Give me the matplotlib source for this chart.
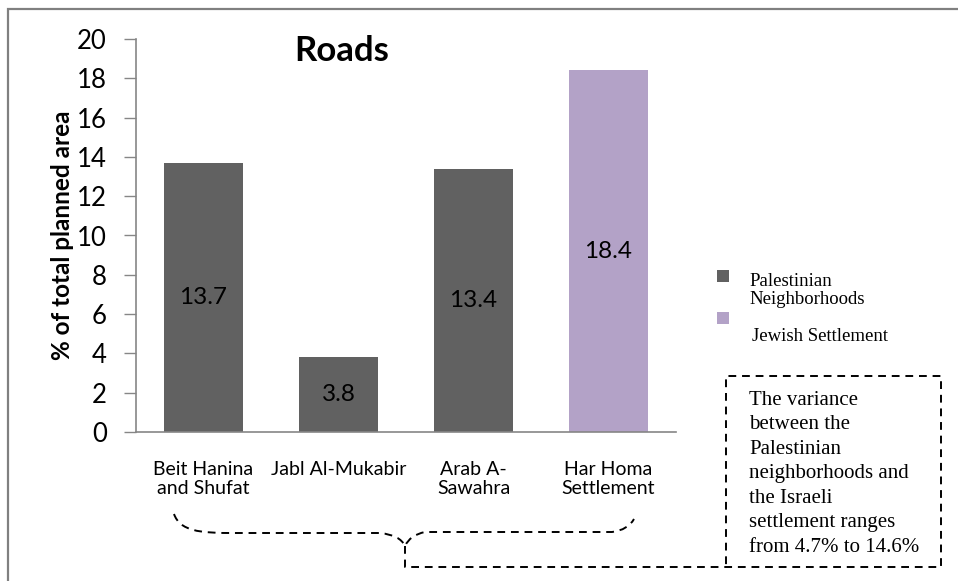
import matplotlib
matplotlib.use("Agg")
import matplotlib.pyplot as plt
from matplotlib.patches import Rectangle, PathPatch
from matplotlib.path import Path
from matplotlib import rcParams

rcParams["font.family"] = ["Lato", "DejaVu Sans"]

# Road share of planned area per neighbourhood
categories = ["Beit Hanina\nand Shufat", "Jabl Al-Mukabir", "Arab A-\nSawahra", "Har Homa\nSettlement"]
values = [13.7, 3.8, 13.4, 18.4]
groups = ["pal", "pal", "pal", "jew"]

group_colors = {"pal": "#616161", "jew": "#B3A2C7"}
legend_labels = {"pal": "Palestinian\nNeighborhoods", "jew": "Jewish Settlement"}
note = ("The variance\nbetween the\nPalestinian\nneighborhoods and\n"
        "the Israeli\nsettlement ranges\nfrom 4.7% to 14.6%")

W, H = 958, 581
fig = plt.figure(figsize=(W / 100, H / 100), dpi=100)


def px(x, y):
    # pixel position (top-left origin) -> figure fraction
    return x / W, 1 - y / H


ax = fig.add_axes([136 / W, 1 - 432 / H, 540 / W, 393 / H])
xs = range(len(values))
bars = ax.bar(xs, values, width=0.58, color=[group_colors[g] for g in groups])
ax.bar_label(bars, labels=[f"{v:g}" for v in values], label_type="center",
             fontsize=17.5, color="black")

ax.set_xlim(-0.5, len(values) - 0.5)
ax.set_ylim(0, 20)
ax.set_yticks(range(0, 21, 2))
ax.set_xticks(list(xs))
ax.set_xticklabels(categories, fontsize=14, linespacing=1.1)
ax.tick_params(axis="x", length=0, pad=21)
ax.tick_params(axis="y", length=9, width=1, color="#868686", labelsize=18.5, pad=12)
for side in ("top", "right"):
    ax.spines[side].set_visible(False)
for side in ("left", "bottom"):
    ax.spines[side].set_color("#868686")
    ax.spines[side].set_linewidth(1.2)

ax.set_ylabel("% of total planned area", fontsize=17.5, fontweight="bold", labelpad=2)
ax.text(0.38, 0.97, "Roads", transform=ax.transAxes, ha="center", va="center",
        fontsize=25, fontweight="bold")

# legend, laid out by hand
serif = ["Liberation Serif", "DejaVu Serif"]
for (g, sy), (tx, ty) in zip([("pal", 270), ("jew", 312)], [(749, 273), (752, 328)]):
    x0, y0 = px(717, sy + 12)
    fig.add_artist(Rectangle((x0, y0), 12 / W, 12 / H, transform=fig.transFigure,
                             color=group_colors[g], lw=0))
    fig.text(*px(tx, ty), legend_labels[g], family=serif, fontsize=13.5, va="top",
             linespacing=1.05)

# note box and dashed brace joining it to the x labels
fig.text(*px(749, 391), note, family=serif, fontsize=15, va="top", linespacing=1.39)

dash = dict(color="black", lw=1.4, linestyle=(0, (4, 3)))
box = [px(405, 546), px(405, 567), px(941, 567), px(941, 376), px(726, 376), px(726, 567)]
fig.add_artist(plt.Line2D([p[0] for p in box], [p[1] for p in box],
                          transform=fig.transFigure, **dash))

brace_pts = [(174, 514), (180, 531), (200, 533), (230, 533),
             (380, 533), (400, 535), (405, 546),
             (410, 535), (425, 532), (445, 532),
             (612, 532), (628, 530), (634, 519)]
codes = [Path.MOVETO, Path.CURVE4, Path.CURVE4, Path.CURVE4,
         Path.LINETO, Path.CURVE3, Path.CURVE3,
         Path.CURVE3, Path.CURVE3, Path.LINETO,
         Path.LINETO, Path.CURVE3, Path.CURVE3]
brace = Path([px(*p) for p in brace_pts], codes)
fig.add_artist(PathPatch(brace, transform=fig.transFigure, fill=False,
                         edgecolor="black", lw=1.4, linestyle=(0, (4, 3))))

# outer frame
fig.add_artist(Rectangle(px(8, 620), 1000 / W, 611 / H, transform=fig.transFigure,
                         fill=False, edgecolor="#808080", lw=1.6))

fig.savefig("out.png", dpi=100)
